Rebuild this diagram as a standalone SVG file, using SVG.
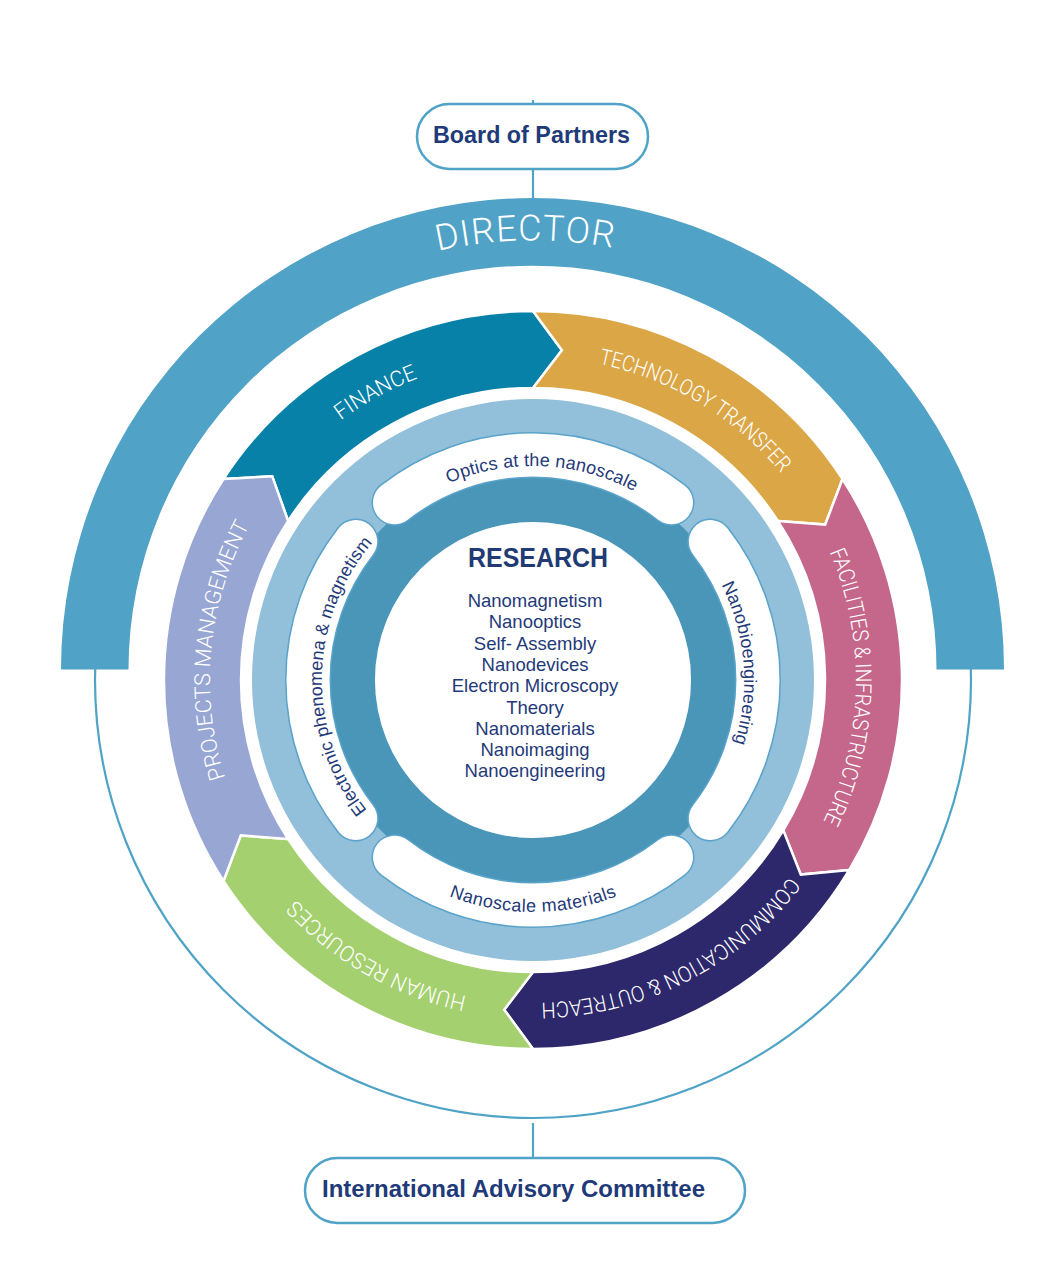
<svg xmlns="http://www.w3.org/2000/svg" width="1063" height="1275" viewBox="0 0 1063 1275">
<defs>
<style>
.lbl{font-family:Roboto,"Liberation Sans",sans-serif;font-weight:300;font-size:22px;fill:#fff}
.dir{font-family:Roboto,"Liberation Sans",sans-serif;font-weight:300;font-size:36px;fill:#fff}
.pillo{fill:none;stroke:#5aa3ca;stroke-width:46;stroke-linecap:round}
.pilli{fill:none;stroke:#fff;stroke-width:43;stroke-linecap:round}
.ptxt{font-family:"Liberation Sans",sans-serif;font-size:18px;fill:#1f3a78}
.seg{stroke:#fff;stroke-width:2.5;stroke-linejoin:miter}
.box{fill:#fff;stroke:#4fa3c7;stroke-width:2.5}
.btxt{font-family:"Liberation Sans",sans-serif;font-weight:bold;font-size:24px;fill:#1f3a78}
.list{font-family:"Liberation Sans",sans-serif;font-size:18.5px;fill:#1f3a78;text-anchor:middle}
.conn{stroke:#4fa3c7;stroke-width:2.2;fill:none}
</style>
<path id="arcLbl" d="M229.5,569.5 A323,323 0 0 1 836.5,569.5"/>
<path id="arcDir" d="M129.7,522.7 A428.5,428.5 0 0 1 935.3,522.7"/>
<path id="arcPillTop" d="M331.9,606.8 A214,214 0 0 1 734.1,606.8"/>
<path id="arcPillSide" d="M334.7,607.8 A211,211 0 0 1 731.3,607.8"/>
<path id="arcPillBot" d="M315,759.3 A232,232 0 0 0 751,759.3"/>
</defs>

<g id="connectors">
<line class="conn" x1="533" y1="100" x2="533" y2="200"/>
<line class="conn" x1="533" y1="1123" x2="533" y2="1159"/>
<circle class="conn" cx="533" cy="680" r="438"/>
</g>

<g id="board-of-partners">
<rect class="box" x="417" y="104" width="231" height="65" rx="32.5"/>
<text class="btxt" x="433" y="143" textLength="197" lengthAdjust="spacingAndGlyphs">Board of Partners</text>
</g>

<g id="director">
<path d="M61,669.5 A471.5,471.5 0 0 1 1004,669.5 L936.5,669.5 A404,404 0 0 0 128.5,669.5 Z" fill="#50a2c6"/>
<text class="dir" transform="rotate(-1 532.5 669.5)"><textPath href="#arcDir" startOffset="50%" text-anchor="middle" textLength="176" lengthAdjust="spacing">DIRECTOR</textPath></text>
</g>

<g id="finance">
<path class="seg" fill="#0781a8" d="M223.5,479 A369,369 0 0 1 533,311 L561.9,350.3 L533,388 A292,292 0 0 0 288.1,521 L272.2,476.2 Z"/>
<text class="lbl" transform="rotate(-28.7 533 680)"><textPath href="#arcLbl" startOffset="50%" text-anchor="middle" textLength="88" lengthAdjust="spacingAndGlyphs">FINANCE</textPath></text>
</g>
<g id="technology-transfer">
<path class="seg" fill="#dba646" d="M533,311 A369,369 0 0 1 842.5,479 L825.2,524.6 L777.9,521 A292,292 0 0 0 533,388 L561.9,350.3 Z"/>
<text class="lbl" transform="rotate(31 533 680)"><textPath href="#arcLbl" startOffset="50%" text-anchor="middle" textLength="217" lengthAdjust="spacingAndGlyphs">TECHNOLOGY TRANSFER</textPath></text>
</g>
<g id="facilities-infrastructure">
<path class="seg" fill="#c5668b" d="M842.5,479 A369,369 0 0 1 849.3,870 L800.8,874.6 L783.3,830.4 A292,292 0 0 0 777.9,521 L825.2,524.6 Z"/>
<text class="lbl" transform="rotate(91.3 533 680)"><textPath href="#arcLbl" startOffset="50%" text-anchor="middle" textLength="278" lengthAdjust="spacingAndGlyphs">FACILITIES &amp; INFRASTRUCTURE</textPath></text>
</g>
<g id="communication-outreach">
<path class="seg" fill="#2d286b" d="M849.3,870 A369,369 0 0 1 533,1049 L504.2,1009.7 L533,972 A292,292 0 0 0 783.3,830.4 L800.8,874.6 Z"/>
<text class="lbl" transform="rotate(153 533 680)"><textPath href="#arcLbl" startOffset="50%" text-anchor="middle" textLength="288" lengthAdjust="spacingAndGlyphs">COMMUNICATION &amp; OUTREACH</textPath></text>
</g>
<g id="human-resources">
<path class="seg" fill="#a4d06f" d="M533,1049 A369,369 0 0 1 223.5,881 L240.8,835.4 L288.1,839 A292,292 0 0 0 533,972 L504.2,1009.7 Z"/>
<text class="lbl" transform="rotate(209.5 533 680)"><textPath href="#arcLbl" startOffset="50%" text-anchor="middle" textLength="199" lengthAdjust="spacingAndGlyphs">HUMAN RESOURCES</textPath></text>
</g>
<g id="projects-management">
<path class="seg" fill="#98a6d4" d="M223.5,881 A369,369 0 0 1 223.5,479 L272.2,476.2 L288.1,521 A292,292 0 0 0 288.1,839 L240.8,835.4 Z"/>
<text class="lbl" transform="rotate(-84.5 533 680)"><textPath href="#arcLbl" startOffset="50%" text-anchor="middle" textLength="261" lengthAdjust="spacingAndGlyphs">PROJECTS MANAGEMENT</textPath></text>
</g>

<g id="research-rings">
<circle cx="533" cy="680" r="281" fill="#92bfd9"/>
<circle cx="533" cy="680" r="186" fill="none" stroke="#4a96b9" stroke-width="56"/>
</g>

<g id="optics">
<path class="pillo" d="M394.5,502.7 A225,225 0 0 1 671.5,502.7"/>
<path class="pilli" d="M394.5,502.7 A225,225 0 0 1 671.5,502.7"/>
<text class="ptxt" transform="rotate(2.5 533 680)"><textPath href="#arcPillTop" startOffset="50%" text-anchor="middle" textLength="192" lengthAdjust="spacing">Optics at the nanoscale</textPath></text>
</g>
<g id="nanobioengineering">
<path class="pillo" d="M710.3,541.5 A225,225 0 0 1 710.3,818.5"/>
<path class="pilli" d="M710.3,541.5 A225,225 0 0 1 710.3,818.5"/>
<text class="ptxt" transform="rotate(85.3 533 680)"><textPath href="#arcPillSide" startOffset="50%" text-anchor="middle" textLength="163" lengthAdjust="spacing">Nanobioengineering</textPath></text>
</g>
<g id="nanoscale-materials">
<path class="pillo" d="M671.5,857.3 A225,225 0 0 1 394.5,857.3"/>
<path class="pilli" d="M671.5,857.3 A225,225 0 0 1 394.5,857.3"/>
<text class="ptxt"><textPath href="#arcPillBot" startOffset="50%" text-anchor="middle" textLength="172" lengthAdjust="spacing">Nanoscale materials</textPath></text>
</g>
<g id="electronic-phenomena">
<path class="pillo" d="M355.7,818.5 A225,225 0 0 1 355.7,541.5"/>
<path class="pilli" d="M355.7,818.5 A225,225 0 0 1 355.7,541.5"/>
<text class="ptxt" transform="rotate(-88.8 533 680)"><textPath href="#arcPillSide" startOffset="50%" text-anchor="middle" textLength="290" lengthAdjust="spacing">Electronic phenomena &amp; magnetism</textPath></text>
</g>

<g id="research">
<circle cx="533" cy="680" r="158" fill="#fff"/>
<text x="468" y="567" font-family="Liberation Sans, sans-serif" font-weight="bold" font-size="27" fill="#223a73" textLength="140" lengthAdjust="spacingAndGlyphs">RESEARCH</text>
<text class="list" x="535" y="607">Nanomagnetism</text>
<text class="list" x="535" y="628.3">Nanooptics</text>
<text class="list" x="535" y="649.6">Self- Assembly</text>
<text class="list" x="535" y="671">Nanodevices</text>
<text class="list" x="535" y="692.2">Electron Microscopy</text>
<text class="list" x="535" y="713.5">Theory</text>
<text class="list" x="535" y="734.8">Nanomaterials</text>
<text class="list" x="535" y="756">Nanoimaging</text>
<text class="list" x="535" y="777.4">Nanoengineering</text>
</g>

<g id="international-advisory-committee">
<rect class="box" x="305" y="1158" width="440" height="65" rx="32.5"/>
<text class="btxt" x="322" y="1197" textLength="383" lengthAdjust="spacingAndGlyphs">International Advisory Committee</text>
</g>
</svg>
